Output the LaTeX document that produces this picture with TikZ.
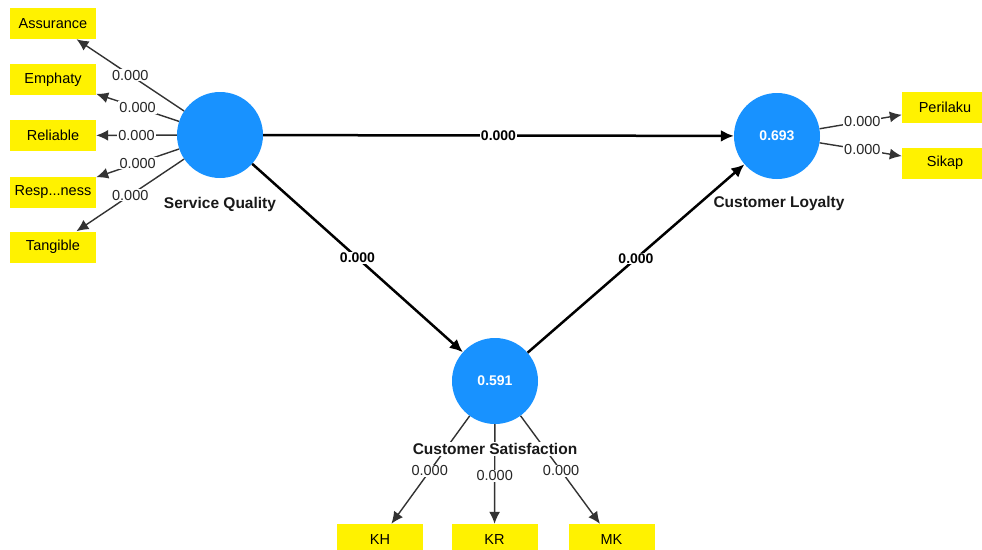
\documentclass[tikz,border=0pt]{standalone}
\usepackage{fontspec}
\setmainfont{Liberation Sans}
\usetikzlibrary{arrows.meta}
\definecolor{lvblue}{RGB}{24,146,255}
\begin{document}
\begin{tikzpicture}[x=1pt,y=-1pt,
 latent/.style={circle,fill=lvblue,minimum size=86pt,inner sep=0pt,text=white,font=\fontsize{14}{16}\selectfont\bfseries},
 ind/.style={fill=yellow,minimum width=86pt,minimum height=31pt,inner sep=0pt,font=\fontsize{14.5}{16}\selectfont},
 lname/.style={fill=white,inner sep=1pt,font=\fontsize{15.5}{18}\selectfont\bfseries,text=black!90},
 load/.style={draw=black!80,line width=1.4pt,-{Latex[length=12pt,width=11pt]}},
 strpath/.style={draw=black,line width=2.5pt,-{Latex[length=13pt,width=12pt]}},
 val/.style={fill=white,inner sep=1pt,font=\fontsize{14.5}{16}\selectfont,text=black!85},
 bval/.style={fill=white,inner sep=1pt,font=\fontsize{14}{16}\selectfont\bfseries}
]
\useasboundingbox[fill=white] (0,0) rectangle (982,549);
% latent variables
\node[latent] (sq) at (220,135) {};
\node[latent] (cl) at (777,136) {0.693};
\node[latent] (cs) at (495,381) {0.591};
% indicators
\node[ind] (as) at (53,23.5) {Assurance};
\node[ind] (em) at (53,79.5) {Emphaty};
\node[ind] (re) at (53,135.5) {Reliable};
\node[ind] (rs) at (53,192) {Resp...ness};
\node[ind] (tg) at (53,247) {Tangible};
\node[ind] (pe) at (945,107.5) {Perilaku};
\node[ind] (si) at (945,163) {Sikap};
\node[ind] (kh) at (380,539.5) {KH};
\node[ind] (kr) at (494.5,539.5) {KR};
\node[ind] (mk) at (611.5,539.5) {MK};
% outer loadings
\draw[load] (sq) -- node[val,pos=0.5]{0.000} (as);
\draw[load] (sq) -- node[val,pos=0.5]{0.000} (em);
\draw[load] (sq) -- node[val,pos=0.5]{0.000} (re);
\draw[load] (sq) -- node[val,pos=0.5]{0.000} (rs);
\draw[load] (sq) -- node[val,pos=0.5]{0.000} (tg);
\draw[load] (cl) -- node[val,pos=0.52]{0.000} (pe);
\draw[load] (cl) -- node[val,pos=0.52]{0.000} (si);
\draw[load] (cs) -- node[val,pos=0.51]{0.000} (kh);
\draw[load] (cs) -- node[val,pos=0.52]{0.000} (kr);
\draw[load] (cs) -- node[val,pos=0.51]{0.000} (mk);
% structural paths
\draw[strpath] (sq) -- node[bval]{0.000} (cl);
\draw[strpath] (sq) -- node[bval]{0.000} (cs);
\draw[strpath] (cs) -- node[bval]{0.000} (cl);
% construct names
\node[lname] (sqn) at (220,204) {Service Quality};
\node[lname] (cln) at (779,203) {Customer Loyalty};
\node[lname] (csn) at (495,449) {Customer Satisfaction};
\end{tikzpicture}
\end{document}
